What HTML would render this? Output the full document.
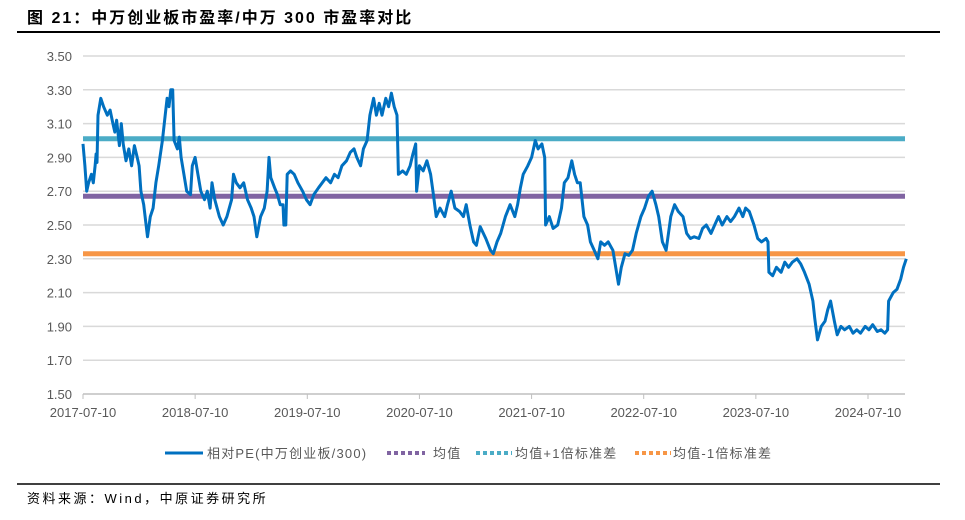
<!DOCTYPE html>
<html><head><meta charset="utf-8">
<style>
body{margin:0;background:#fff;width:965px;height:515px;overflow:hidden;font-family:"Liberation Sans","Noto Sans CJK SC",sans-serif;}
</style></head>
<body>
<svg id="chart" width="965" height="515" xmlns="http://www.w3.org/2000/svg">
<text x="27" y="23" font-size="16" font-weight="bold" fill="#000" letter-spacing="2" font-family="Liberation Sans, Noto Sans CJK SC, sans-serif">图 21：中万创业板市盈率/中万 300 市盈率对比</text>
<line x1="17" y1="32" x2="940" y2="32" stroke="#000" stroke-width="2"/>
<g id="grid"></g><g id="hlines"></g><g id="series"></g><g id="axes"></g>
<g font-size="13" fill="#595959" letter-spacing="1.2" font-family="Liberation Sans, Noto Sans CJK SC, sans-serif">
 <line x1="165" y1="453" x2="203" y2="453" stroke="#0070c0" stroke-width="3"/>
 <text x="207" y="458">相对PE(中万创业板/300)</text>
 <line x1="387" y1="453" x2="425" y2="453" stroke="#8064a2" stroke-width="4" stroke-dasharray="4,3"/>
 <text x="433" y="458">均值</text>
 <line x1="476" y1="453" x2="512" y2="453" stroke="#4bacc6" stroke-width="4" stroke-dasharray="4,3"/>
 <text x="515" y="458">均值+1倍标准差</text>
 <line x1="635" y1="453" x2="671" y2="453" stroke="#f79646" stroke-width="4" stroke-dasharray="4,3"/>
 <text x="673" y="458">均值-1倍标准差</text>
</g>
<line x1="17" y1="484" x2="940" y2="484" stroke="#000" stroke-width="1.5"/>
<text x="27" y="503" font-size="13" fill="#000" letter-spacing="2.5" font-family="Liberation Sans, Noto Sans CJK SC, sans-serif">资料来源：Wind，中原证券研究所</text>
</svg>
<script>
const months=[0.0,0.2,0.4,0.6,0.9,1.1,1.3,1.4,1.5,1.6,1.9,2.2,2.6,2.9,3.2,3.4,3.6,3.9,4.1,4.3,4.6,4.9,5.2,5.5,5.8,6.0,6.2,6.5,6.9,7.2,7.5,7.8,8.1,8.5,8.8,9.0,9.2,9.4,9.6,9.75,10.1,10.3,10.5,10.8,11.1,11.5,11.7,12.0,12.3,12.6,13.0,13.3,13.6,13.8,14.1,14.6,15.0,15.4,15.9,16.1,16.4,16.8,17.2,17.6,18.0,18.3,18.6,19.0,19.4,19.7,19.9,20.1,20.5,20.8,21.1,21.4,21.5,21.7,21.85,22.2,22.6,23.0,23.5,23.9,24.3,24.7,25.2,25.6,26.0,26.5,26.9,27.3,27.7,28.2,28.6,29.0,29.3,29.7,30.0,30.4,30.7,31.1,31.4,31.7,32.0,32.4,32.7,33.0,33.3,33.6,33.75,34.2,34.6,35.0,35.3,35.6,35.7,36.0,36.4,36.8,37.2,37.5,37.8,38.2,38.7,39.0,39.4,39.8,40.3,40.7,41.0,41.4,41.8,42.1,42.5,43.1,43.6,43.9,44.3,44.7,45.2,45.7,46.2,46.5,46.8,47.1,47.6,48.0,48.4,48.7,49.1,49.4,49.5,49.9,50.3,50.8,51.2,51.5,51.9,52.3,52.6,52.9,53.2,53.6,54.0,54.3,54.7,55.1,55.4,55.8,56.2,56.7,57.0,57.3,57.6,58.0,58.4,58.8,59.2,59.7,60.1,60.5,60.9,61.3,61.6,62.0,62.4,62.9,63.3,63.7,64.2,64.6,65.0,65.4,65.9,66.3,66.7,67.2,67.6,68.0,68.4,68.9,69.3,69.7,70.2,70.6,70.9,71.3,71.8,72.2,72.6,73.1,73.3,73.4,73.8,74.2,74.7,75.1,75.5,75.9,76.4,76.8,77.2,77.7,78.1,78.3,78.6,79.0,79.4,79.7,80.0,80.4,80.7,81.1,81.5,82.0,82.4,82.8,83.2,83.7,84.1,84.5,85.0,85.4,85.8,86.1,86.2,86.7,87.1,87.5,87.8,88.1];
const peValues=[2.98,2.85,2.70,2.75,2.80,2.75,2.85,2.92,2.87,3.15,3.25,3.20,3.15,3.18,3.10,3.05,3.12,2.97,3.10,2.98,2.88,2.95,2.85,2.97,2.90,2.85,2.70,2.62,2.43,2.55,2.60,2.75,2.85,3.00,3.15,3.25,3.20,3.30,3.30,3.00,2.95,3.02,2.90,2.80,2.70,2.68,2.85,2.90,2.80,2.70,2.65,2.70,2.60,2.75,2.65,2.55,2.50,2.55,2.65,2.80,2.75,2.72,2.75,2.65,2.60,2.55,2.43,2.55,2.60,2.70,2.90,2.78,2.72,2.68,2.62,2.62,2.50,2.50,2.80,2.82,2.80,2.75,2.70,2.65,2.62,2.68,2.72,2.75,2.78,2.75,2.80,2.78,2.85,2.88,2.93,2.95,2.90,2.85,2.95,3.00,3.15,3.25,3.15,3.22,3.15,3.25,3.20,3.28,3.20,3.15,2.80,2.82,2.80,2.85,2.92,2.98,2.70,2.85,2.82,2.88,2.80,2.68,2.55,2.60,2.55,2.62,2.70,2.60,2.58,2.55,2.62,2.50,2.40,2.38,2.49,2.42,2.35,2.33,2.40,2.45,2.55,2.62,2.55,2.62,2.72,2.80,2.85,2.90,3.00,2.95,2.98,2.90,2.50,2.55,2.48,2.50,2.60,2.75,2.78,2.88,2.80,2.75,2.75,2.55,2.50,2.40,2.35,2.30,2.40,2.38,2.40,2.35,2.25,2.15,2.25,2.33,2.32,2.35,2.45,2.55,2.60,2.67,2.70,2.62,2.55,2.40,2.35,2.55,2.62,2.58,2.55,2.45,2.42,2.43,2.42,2.48,2.50,2.45,2.50,2.55,2.50,2.55,2.52,2.55,2.60,2.55,2.60,2.58,2.50,2.42,2.40,2.42,2.40,2.22,2.20,2.25,2.22,2.28,2.25,2.28,2.30,2.27,2.22,2.15,2.05,1.95,1.82,1.90,1.93,2.00,2.05,1.93,1.85,1.90,1.88,1.90,1.86,1.88,1.86,1.90,1.88,1.91,1.87,1.88,1.86,1.88,2.05,2.10,2.12,2.18,2.25,2.30];
const meanValue=2.67;
const plus1Std=3.01;
const minus1Std=2.33;
const yTicks=["1.50","1.70","1.90","2.10","2.30","2.50","2.70","2.90","3.10","3.30","3.50"];
const xTickLabels=["2017-07-10","2018-07-10","2019-07-10","2020-07-10","2021-07-10","2022-07-10","2023-07-10","2024-07-10"];
const xTickMonths=[0,12,24,36,48,60,72,84];

const NS="http://www.w3.org/2000/svg";
const X0=83,X1=905,Y0=394,Y1=56,VMIN=1.5,VMAX=3.5;
const pxPerMonth=(868-83)/84;
function xs(m){return X0+m*pxPerMonth;}
function ys(v){return Y0-(v-VMIN)/(VMAX-VMIN)*(Y0-Y1);}
function mk(tag,attrs,parent){const e=document.createElementNS(NS,tag);for(const k in attrs)e.setAttribute(k,attrs[k]);parent.appendChild(e);return e;}
const grid=document.getElementById('grid'),axes=document.getElementById('axes'),hl=document.getElementById('hlines'),ser=document.getElementById('series');
yTicks.forEach(t=>{const v=parseFloat(t);const y=ys(v);
 if(v>VMIN){const g=mk('line',{x1:X0,x2:X1,y1:y,y2:y,stroke:'#d9d9d9','stroke-width':1.5},grid);
 
 }
 const tx=mk('text',{x:72,y:y+5,'text-anchor':'end','font-size':13,fill:'#595959','font-family':'Liberation Sans, sans-serif'},axes);tx.textContent=t;
 
 
});
const ax=mk('line',{x1:X0,x2:X1,y1:Y0,y2:Y0,stroke:'#bfbfbf','stroke-width':1.5},axes);


xTickLabels.forEach((t,i)=>{const x=xs(xTickMonths[i]);
 const tk=mk('line',{x1:x,x2:x,y1:Y0,y2:Y0+5,stroke:'#bfbfbf'},axes);
 
 
 const tx=mk('text',{x:x,y:417,'text-anchor':'middle','font-size':13,fill:'#595959','font-family':'Liberation Sans, sans-serif'},axes);tx.textContent=t;
 
 
});
[[meanValue,'#8064a2','mean-line'],[plus1Std,'#4bacc6','plus-1-std-line'],[minus1Std,'#f79646','minus-1-std-line']].forEach(h=>{
 const l=mk('line',{x1:X0,x2:X1,y1:ys(h[0]),y2:ys(h[0]),stroke:h[1],'stroke-width':5},hl);
 
 
});
const d=peValues.map((v,i)=>(i?'L':'M')+xs(months[i]).toFixed(1)+','+ys(v).toFixed(1)).join(' ');
const p=mk('path',{d:d,fill:'none',stroke:'#0070c0','stroke-width':3,'stroke-linejoin':'round'},ser);


</script>
</body></html>
